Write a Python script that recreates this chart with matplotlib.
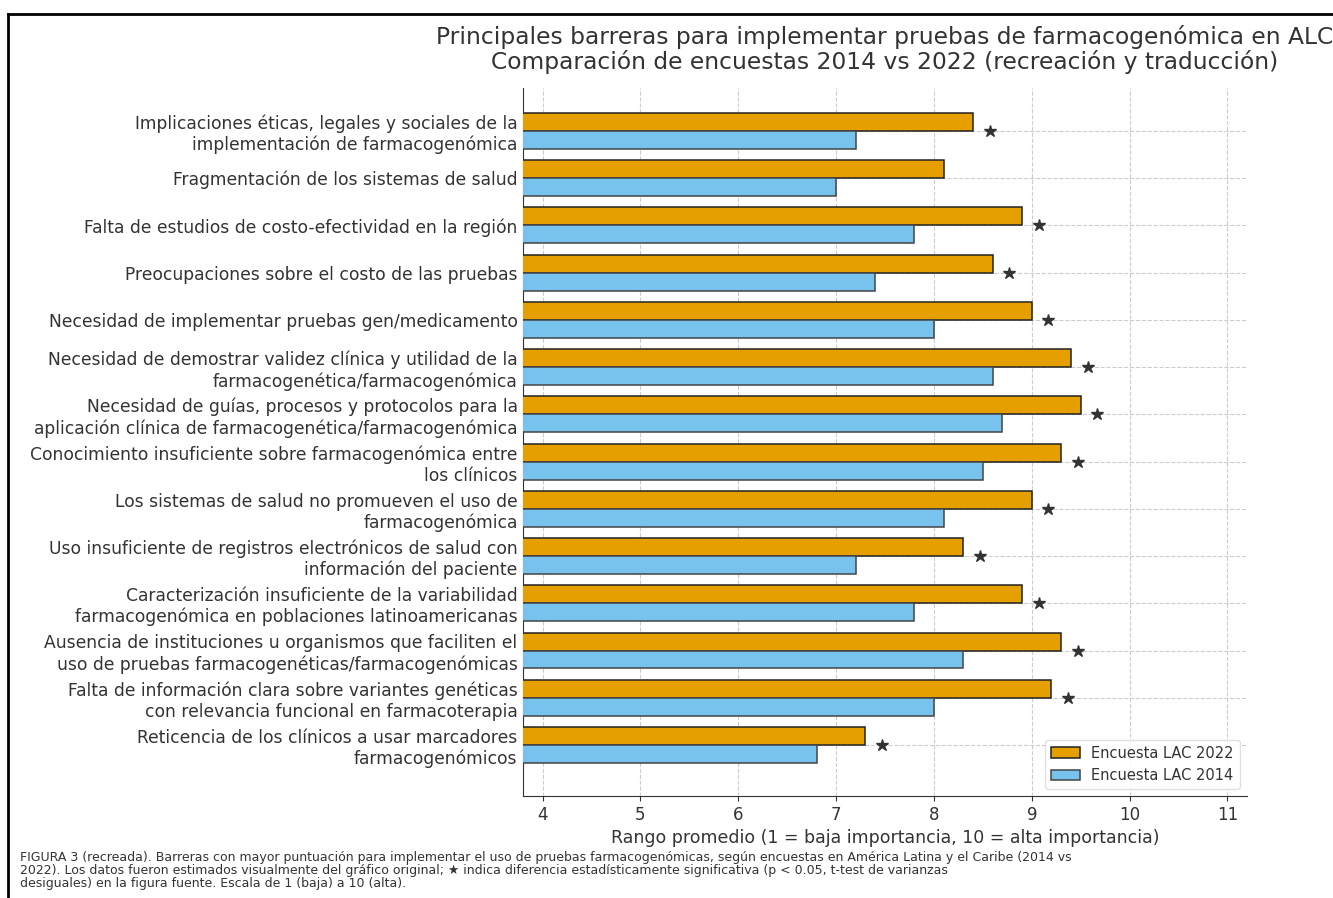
import matplotlib.pyplot as plt
import numpy as np
from matplotlib.lines import Line2D

# barriers, top to bottom as shown
barriers = [
    "Implicaciones éticas, legales y sociales de la\nimplementación de farmacogenómica",
    "Fragmentación de los sistemas de salud",
    "Falta de estudios de costo-efectividad en la región",
    "Preocupaciones sobre el costo de las pruebas",
    "Necesidad de implementar pruebas gen/medicamento",
    "Necesidad de demostrar validez clínica y utilidad de la\nfarmacogenética/farmacogenómica",
    "Necesidad de guías, procesos y protocolos para la\naplicación clínica de farmacogenética/farmacogenómica",
    "Conocimiento insuficiente sobre farmacogenómica entre\nlos clínicos",
    "Los sistemas de salud no promueven el uso de\nfarmacogenómica",
    "Uso insuficiente de registros electrónicos de salud con\ninformación del paciente",
    "Caracterización insuficiente de la variabilidad\nfarmacogenómica en poblaciones latinoamericanas",
    "Ausencia de instituciones u organismos que faciliten el\nuso de pruebas farmacogenéticas/farmacogenómicas",
    "Falta de información clara sobre variantes genéticas\ncon relevancia funcional en farmacoterapia",
    "Reticencia de los clínicos a usar marcadores\nfarmacogenómicos",
]
lac_2022 = [8.4, 8.1, 8.9, 8.6, 9.0, 9.4, 9.5, 9.3, 9.0, 8.3, 8.9, 9.3, 9.2, 7.3]
lac_2014 = [7.2, 7.0, 7.8, 7.4, 8.0, 8.6, 8.7, 8.5, 8.1, 7.2, 7.8, 8.3, 8.0, 6.8]
significant = [True, False, True, True, True, True, True, True, True, True, True, True, True, True]

caption = ("FIGURA 3 (recreada). Barreras con mayor puntuación para implementar el uso de pruebas farmacogenómicas, "
           "según encuestas en América Latina y el Caribe (2014 vs\n2022). Los datos fueron estimados visualmente "
           "del gráfico original; ★ indica diferencia estadísticamente significativa (p < 0.05, t-test de varianzas\n"
           "desiguales) en la figura fuente. Escala de 1 (baja) a 10 (alta).")

txt = "#333333"
fig = plt.figure(figsize=(13.33, 8.98), dpi=100)
ax = fig.add_axes([0.3924, 0.1136, 0.5431, 0.7884])

y = np.arange(len(barriers))
h = 0.38
ax.barh(y - h / 2, lac_2022, height=h, color="#E69F00", edgecolor="#222222", linewidth=1.1,
        label="Encuesta LAC 2022", zorder=3)
ax.barh(y + h / 2, lac_2014, height=h, color="#78C3ED", edgecolor="#444444", linewidth=1.1,
        label="Encuesta LAC 2014", zorder=3)

for yi, v, s in zip(y, lac_2022, significant):
    if s:
        ax.plot(v + 0.17, yi, marker="*", color="#333333", markersize=9, zorder=4)

ax.set_yticks(y)
ax.set_yticklabels(barriers, fontsize=12.3, color=txt)
ax.set_xticks(range(4, 12))
ax.tick_params(axis="x", labelsize=12, colors=txt)
ax.tick_params(axis="y", length=0, pad=4)
ax.set_xlim(3.8, 11.2)
ax.set_ylim(14.08, -0.91)
ax.grid(True, linestyle="--", color="#cccccc", linewidth=0.8, zorder=0)
ax.set_axisbelow(True)
for sp in ["top", "right"]:
    ax.spines[sp].set_visible(False)
for sp in ["left", "bottom"]:
    ax.spines[sp].set_color("#333333")

ax.set_xlabel("Rango promedio (1 = baja importancia, 10 = alta importancia)", fontsize=12.5, color=txt, labelpad=4)
ax.set_title("Principales barreras para implementar pruebas de farmacogenómica en ALC\n"
             "Comparación de encuestas 2014 vs 2022 (recreación y traducción)",
             fontsize=16.8, color=txt, pad=14, linespacing=1.05)
ax.legend(loc="lower right", fontsize=10.5, framealpha=0.9, edgecolor="#dddddd", labelcolor=txt)

fig.text(0.015, 0.052, caption, fontsize=9, color=txt, ha="left", va="top", linespacing=1.0)

# screenshot frame
fig.add_artist(Line2D([0.006, 1.0], [0.9845, 0.9845], color="black", linewidth=2, transform=fig.transFigure))
fig.add_artist(Line2D([0.006, 0.006], [0.0, 0.9845], color="black", linewidth=2, transform=fig.transFigure))

fig.savefig("out.png", dpi=100)
